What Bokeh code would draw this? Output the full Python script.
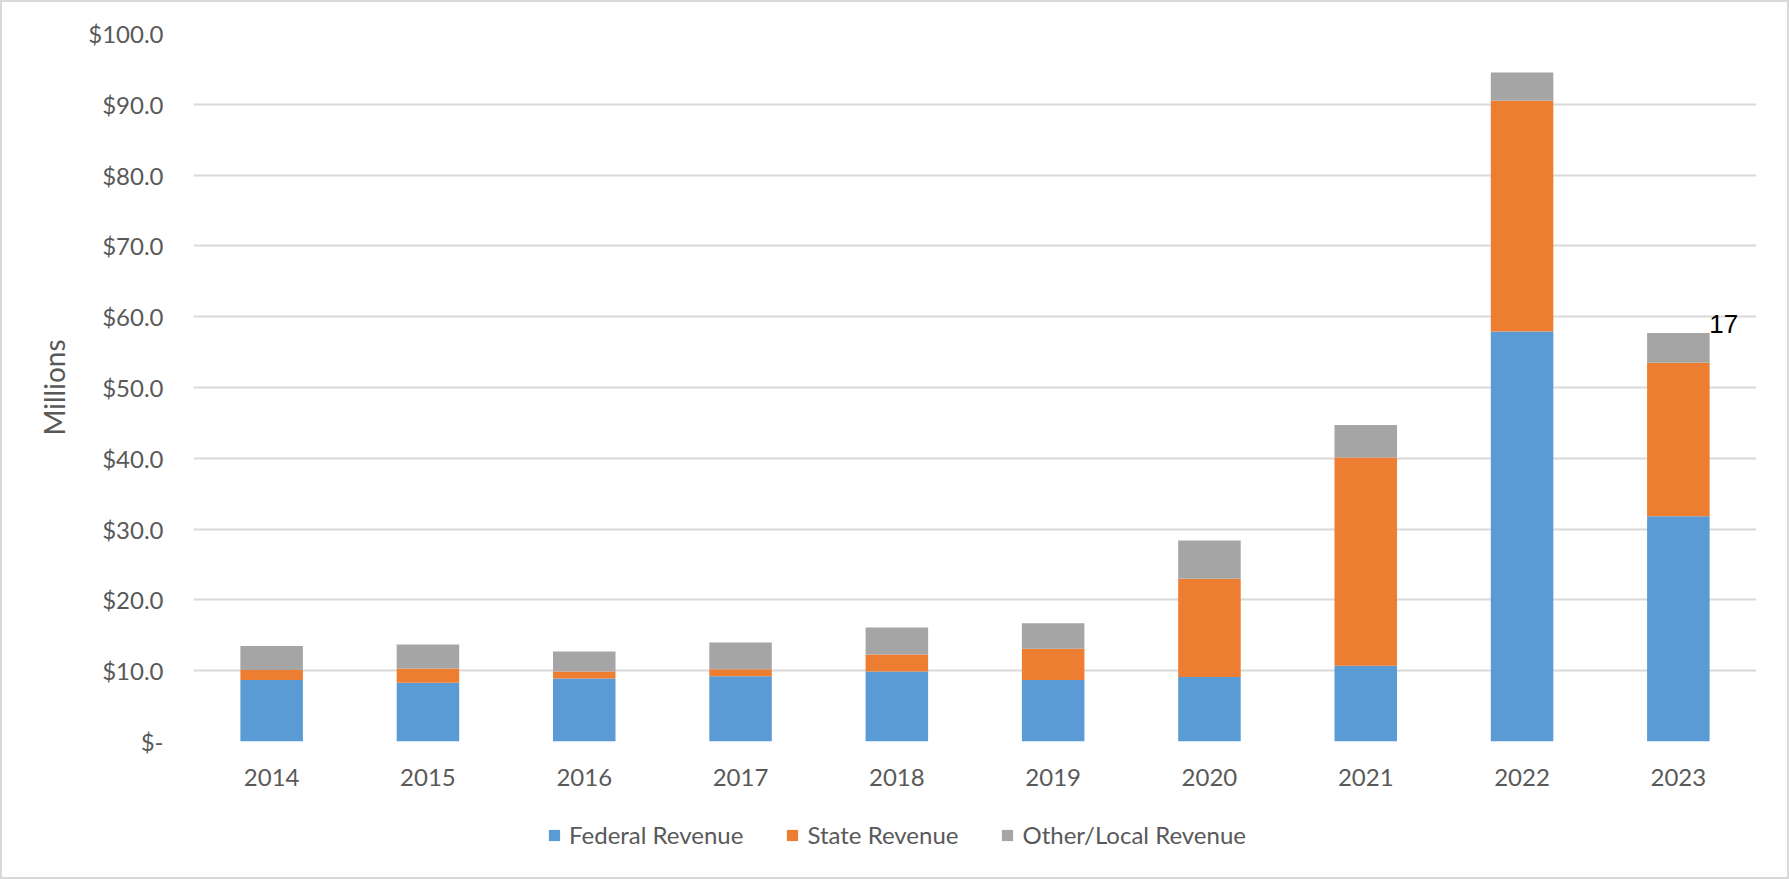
from bokeh.plotting import figure
from bokeh.layouts import column
from bokeh.models import (FactorRange, Range1d, CustomJSTickFormatter, Legend,
                          LegendItem, ColumnDataSource)
from bokeh.embed import file_html
from bokeh.resources import INLINE
from bokeh.core.properties import value

# ---- data (US$ millions) ----
years = ["2014", "2015", "2016", "2017", "2018", "2019", "2020", "2021", "2022", "2023"]
federal = [8.7, 8.3, 8.9, 9.2, 9.9, 8.7, 9.1, 10.7, 57.9, 31.8]
state = [1.4, 2.0, 1.0, 1.0, 2.4, 4.4, 13.9, 29.4, 32.6, 21.7]
other = [3.4, 3.4, 2.8, 3.8, 3.8, 3.6, 5.4, 4.6, 4.0, 4.2]
series_keys = ["federal", "state", "other"]
series_names = ["Federal Revenue", "State Revenue", "Other/Local Revenue"]
series_colors = ["#5B9BD5", "#ED7D31", "#A5A5A5"]
y_ticks = [0, 10, 20, 30, 40, 50, 60, 70, 80, 90, 100]
note_year = ["2023"]
note_text = ["17"]

totals = [f + s + o for f, s, o in zip(federal, state, other)]
note_y = [totals[years.index(y)] for y in note_year]

FONT = "Lato"
GREY_TXT = "#595959"
W = 1785
H_MAIN = 800
H_LEG = 75

p = figure(x_range=FactorRange(*years), y_range=Range1d(0, 100),
           width=W, height=H_MAIN, output_backend="svg", toolbar_location=None,
           min_border_left=191, min_border_right=31, min_border_top=31,
           min_border_bottom=H_MAIN - 739)

src = ColumnDataSource(dict(year=years, federal=federal, state=state, other=other))
renderers = p.vbar_stack(series_keys, x="year", width=0.4, source=src,
                         fill_color=series_colors, line_color=None)

# stray data label near 2023 bar
note_src = ColumnDataSource(dict(x=note_year, y=note_y, t=note_text))
p.text(x="x", y="y", text="t", source=note_src, x_offset=31, y_offset=0,
       text_align="left", text_baseline="bottom",
       text_font=value("Liberation Sans"), text_font_size="26px", text_color="black")

# axes
p.yaxis.ticker = y_ticks
p.yaxis.formatter = CustomJSTickFormatter(
    code="return tick == 0 ? '$-' : '$' + tick.toFixed(1);")
p.yaxis.axis_label = "Millions"
p.yaxis.axis_label_text_font = FONT
p.yaxis.axis_label_text_font_size = "28px"
p.yaxis.axis_label_text_font_style = "normal"
p.yaxis.axis_label_text_color = GREY_TXT
p.yaxis.axis_label_standoff = 14
p.yaxis.major_label_standoff = 30

for ax in (p.xaxis[0], p.yaxis[0]):
    ax.axis_line_color = None
    ax.major_tick_line_color = None
    ax.minor_tick_line_color = None
    ax.major_tick_out = 0
    ax.major_tick_in = 0
    ax.major_label_text_font = FONT
    ax.major_label_text_font_size = "24px"
    ax.major_label_text_color = GREY_TXT
p.xaxis.major_label_standoff = 27

p.xgrid.grid_line_color = None
p.ygrid.grid_line_color = "#d9d9d9"
p.ygrid.grid_line_width = 2
p.outline_line_color = None

# legend strip below the chart (same stacked data, drawn outside its view)
leg = figure(width=W, height=H_LEG, output_backend="svg", toolbar_location=None,
             x_axis_type=None, y_axis_type=None, min_border=0,
             x_range=FactorRange(*years), y_range=Range1d(500, 600))
leg.outline_line_color = None
leg.xgrid.grid_line_color = None
leg.ygrid.grid_line_color = None
proxies = leg.vbar_stack(series_keys, x="year", width=0.4, source=src,
                         fill_color=series_colors, line_color=None)
legend = Legend(items=[LegendItem(label=n, renderers=[r])
                       for n, r in zip(series_names, proxies)],
                orientation="horizontal", location=(354, 28),
                glyph_width=14, glyph_height=14, label_standoff=8, spacing=42,
                padding=0, margin=0, border_line_color=None,
                background_fill_alpha=0,
                label_text_font=FONT, label_text_font_size="24px",
                label_text_color=GREY_TXT)
leg.add_layout(legend)

layout = column(p, leg, spacing=0, styles={"border": "2px solid #d9d9d9"})

open("out.html", "w").write(file_html(layout, INLINE))
